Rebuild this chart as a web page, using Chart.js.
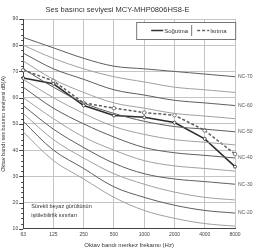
<!DOCTYPE html>
<html lang="tr">
<head>
    <meta charset="UTF-8">
    <title>Ses basıncı seviyesi</title>
    <script src="https://cdn.jsdelivr.net/npm/chart.js"></script>
    <style>
        html, body { margin: 0; padding: 0; background: #fff; }
        #wrap { width: 254px; height: 251px; }
    </style>
</head>
<body>
<div id="wrap"><canvas id="nc"></canvas></div>
<script>
    // Octave band centre frequencies (Hz)
    const freqLabels = ['63', '125', '250', '500', '1000', '2000', '4000', '8000'];

    const sogutma = [67.5, 65.3, 57.0, 53.2, 52.5, 50.5, 44.3, 33.7];
    const isitma  = [70.5, 66.4, 58.0, 56.0, 54.3, 53.3, 47.5, 38.5];

    // NC reference curves
    const ncNames = ['NC-70', 'NC-65', 'NC-60', 'NC-55', 'NC-50', 'NC-45', 'NC-40', 'NC-35', 'NC-30', 'NC-25', 'NC-20', 'NC-15'];
    const ncValues = [
        [83, 79, 75, 72, 71, 70, 69, 68],
        [80, 75, 71, 68, 66, 64, 63, 62],
        [77, 71, 67, 63, 61, 59, 58, 57],
        [74, 67, 62, 58, 56, 54, 53, 52],
        [71, 64, 58, 54, 51, 49, 48, 47],
        [67, 60, 54, 49, 46, 44, 43, 42],
        [64, 56, 50, 45, 41, 39, 38, 37],
        [60, 52, 45, 40, 36, 34, 33, 32],
        [57, 48, 41, 35, 31, 29, 28, 27],
        [54, 44, 37, 31, 27, 24, 22, 21],
        [51, 40, 33, 26, 22, 19, 17, 16],
        [47, 36, 29, 22, 17, 14, 12, 11]
    ];
    const yTicks = [10, 20, 30, 40, 50, 60, 70, 80, 90];

    const FONT = 'Liberation Sans, Arial, sans-serif';

    const ncDatasets = ncNames.map((name, i) => ({
        label: name,
        data: ncValues[i],
        borderColor: i % 2 === 0 ? '#5e5e5e' : '#a0a0a0',
        borderWidth: 1,
        pointRadius: 0,
        tension: 0.35,
        fill: false
    }));

    // draws the extras: NC names on the right, in-plot legend, note text, minor ticks
    const extras = {
        id: 'extras',
        afterDraw(chart) {
            const ctx = chart.ctx;
            const area = chart.chartArea;
            const y = chart.scales.y;
            ctx.save();

            // minor y ticks every 2 dB
            ctx.strokeStyle = '#444';
            ctx.lineWidth = 1;
            for (let v = 10; v <= 90; v += 2) {
                const py = Math.round(y.getPixelForValue(v)) + 0.5;
                const len = v % 10 === 0 ? 4 : 2;
                ctx.beginPath();
                ctx.moveTo(area.left - len, py);
                ctx.lineTo(area.left, py);
                ctx.stroke();
            }

            // NC labels on the right side
            ctx.fillStyle = '#555';
            ctx.font = '5px ' + FONT;
            ctx.textBaseline = 'middle';
            ctx.textAlign = 'left';
            ncNames.forEach((name, i) => {
                if (i % 2 !== 0) return;
                const py = y.getPixelForValue(ncValues[i][ncValues[i].length - 1]);
                ctx.fillText(name, area.right + 3, py);
            });

            // legend box in upper right of plot
            const bx = area.left + 113, by = area.top + 3, bw = 99, bh = 17;
            ctx.fillStyle = '#fff';
            ctx.fillRect(bx, by, bw, bh);
            ctx.strokeStyle = '#777';
            ctx.strokeRect(bx + 0.5, by + 0.5, bw, bh);
            ctx.beginPath();
            ctx.moveTo(bx + 55.5, by + 3);
            ctx.lineTo(bx + 55.5, by + bh - 3);
            ctx.stroke();
            const ly = by + bh / 2;
            ctx.lineWidth = 1.5;
            ctx.strokeStyle = '#333';
            ctx.setLineDash([]);
            ctx.beginPath(); ctx.moveTo(bx + 15, ly); ctx.lineTo(bx + 27, ly); ctx.stroke();
            ctx.strokeStyle = '#666';
            ctx.setLineDash([3, 2]);
            ctx.beginPath(); ctx.moveTo(bx + 61, ly); ctx.lineTo(bx + 73, ly); ctx.stroke();
            ctx.setLineDash([]);
            ctx.fillStyle = '#333';
            ctx.font = '6px ' + FONT;
            ctx.fillText('Soğutma', bx + 28, ly + 1);
            ctx.fillText('Isıtma', bx + 74, ly + 1);

            // note at lower left
            ctx.font = '5.5px ' + FONT;
            ctx.fillStyle = '#333';
            ctx.fillText('Sürekli beyaz gürültünün', area.left + 8, y.getPixelForValue(18.5));
            ctx.fillText('işitilebilirlik sınırları', area.left + 8, y.getPixelForValue(15));
            ctx.restore();
        }
    };

    new Chart(document.getElementById('nc'), {
        type: 'line',
        data: {
            labels: freqLabels,
            datasets: [
                ...ncDatasets,
                {
                    label: 'Soğutma',
                    data: sogutma,
                    borderColor: '#2b2b2b',
                    backgroundColor: '#fff',
                    borderWidth: 1.5,
                    pointRadius: 1.5,
                    pointBorderWidth: 0.8,
                    tension: 0
                },
                {
                    label: 'Isıtma',
                    data: isitma,
                    borderColor: '#5e5e5e',
                    backgroundColor: '#fff',
                    borderWidth: 1.5,
                    borderDash: [3, 2],
                    pointRadius: 1.8,
                    pointBorderWidth: 0.8,
                    tension: 0
                }
            ]
        },
        options: {
            responsive: true,
            maintainAspectRatio: false,
            animation: false,
            layout: { padding: { left: 0, right: 19, top: 0, bottom: 2 } },
            plugins: {
                legend: { display: false },
                tooltip: { enabled: false },
                title: {
                    display: true,
                    text: 'Ses basıncı seviyesi MCY-MHP0806HS8-E',
                    color: '#333',
                    font: { family: FONT, size: 7.5, weight: 'normal' },
                    padding: { top: 5, bottom: 5 }
                }
            },
            scales: {
                x: {
                    offset: false,
                    grid: { color: '#c4c4c4', lineWidth: 1, drawTicks: false },
                    border: { color: '#444' },
                    ticks: { color: '#444', font: { family: FONT, size: 5 }, padding: 3, maxRotation: 0, autoSkip: false },
                    title: { display: true, text: 'Oktav bandı merkez frekansı (Hz)', color: '#333', font: { family: FONT, size: 6 }, padding: { top: 1, bottom: 0 } }
                },
                y: {
                    min: 10,
                    max: 90,
                    afterBuildTicks: (s) => { s.ticks = yTicks.map(v => ({ value: v })); },
                    grid: { color: '#c4c4c4', lineWidth: 1, drawTicks: false },
                    border: { color: '#444' },
                    ticks: { color: '#444', font: { family: FONT, size: 5 }, padding: 5 },
                    title: { display: true, text: 'Oktav bandı ses basıncı seviyesi dB(A)', color: '#333', font: { family: FONT, size: 5.5 }, padding: { top: 0, bottom: 1 } }
                }
            }
        },
        plugins: [extras]
    });
</script>
</body>
</html>
